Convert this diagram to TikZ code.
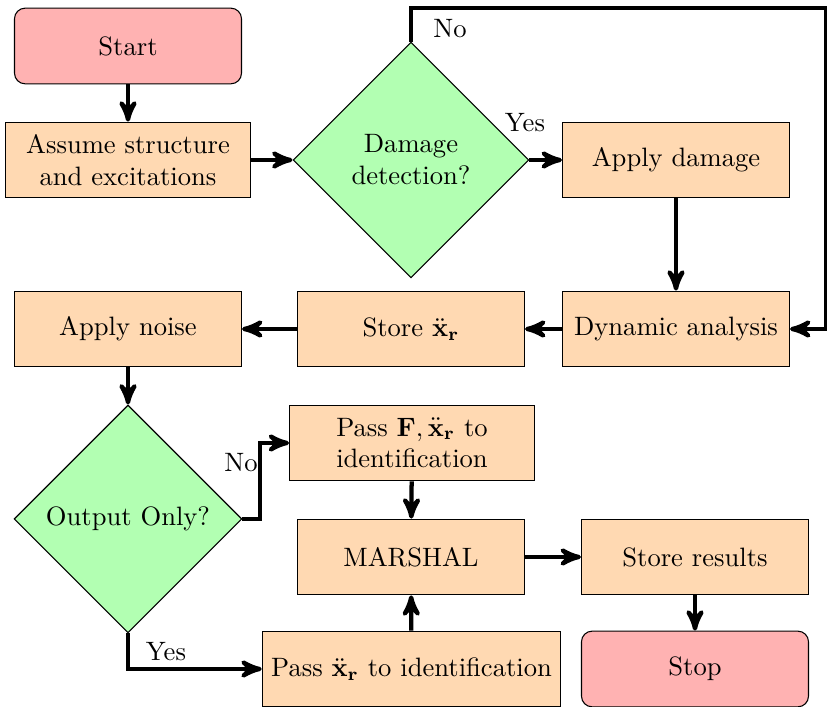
\documentclass[tikz,border=0pt]{standalone}
\usetikzlibrary{shapes.geometric,arrows}
\begin{document}
\begin{tikzpicture}[x=0.376pt,y=-0.376pt,
  terminal/.style={rectangle,rounded corners=4pt,minimum width=3cm,minimum height=1cm,
    text centered,draw=black,thin,fill=red!30},
  process/.style={rectangle,minimum width=3cm,minimum height=1cm,
    text centered,draw=black,thin,fill=orange!30},
  decision/.style={diamond,aspect=1,minimum width=85.7pt,minimum height=85.7pt,
    text centered,draw=black,thin,fill=green!30,inner sep=0pt},
  flow/.style={ultra thick,->,>=stealth'},
  lbl/.style={inner sep=0pt}]
\useasboundingbox (0,0) rectangle (827,707);

% nodes
\node[terminal] (start) at (128,46) {Start};
\node[process,text width=3cm] (assume) at (128,160) {Assume structure and excitations};
\node[decision,minimum width=88.7pt,minimum height=88.7pt,text width=2cm] (dd) at (411,160) {Damage detection?};
\node[process] (dmg) at (676,160) {Apply damage};
\node[process] (dyn) at (676,329) {Dynamic analysis};
\node[process] (store) at (411,329) {Store $\ddot{\mathbf{x}}_\mathbf{r}$};
\node[process] (noise) at (128,329) {Apply noise};
\node[decision] (oo) at (128,519) {Output Only?};
\node[process,text width=3cm] (passF) at (412,443) {Pass $\mathbf{F},\ddot{\mathbf{x}}_\mathbf{r}$ to identification};
\node[process] (marshal) at (411,557) {MARSHAL};
\node[process] (results) at (695,557) {Store results};
\node[process] (passx) at (411.5,669) {Pass $\ddot{\mathbf{x}}_\mathbf{r}$ to identification};
\node[terminal] (stop) at (695,669) {Stop};

% loop-back coordinates
\coordinate (ltop) at (411,8);
\coordinate (rtop) at (826,8);
\coordinate (rmid) at (826,329);
\coordinate (nbend) at (260,519);
\coordinate (ybend) at (128,669);

% connectors
\draw[flow] (start) -- (assume);
\draw[flow] (assume) -- (dd);
\draw[flow] (dd) -- (dmg);
\draw[flow] (dd.north) -- (ltop) -- (rtop) -- (rmid) -- (dyn.east);
\draw[flow] (dmg) -- (dyn);
\draw[flow] (dyn) -- (store);
\draw[flow] (store) -- (noise);
\draw[flow] (noise) -- (oo);
\draw[flow] (oo.east) -- (nbend) |- (passF.west);
\draw[flow] (oo.south) -- (ybend) -- (passx.west);
\draw[flow] (passF) -- (marshal);
\draw[flow] (passx) -- (marshal);
\draw[flow] (marshal) -- (results);
\draw[flow] (results) -- (stop);

% branch labels
\node[lbl] (lno1) at (450,29) {No};
\node[lbl] (lyes1) at (525,123) {Yes};
\node[lbl] (lno2) at (241,463) {No};
\node[lbl] (lyes2) at (166,652) {Yes};
\end{tikzpicture}
\end{document}
